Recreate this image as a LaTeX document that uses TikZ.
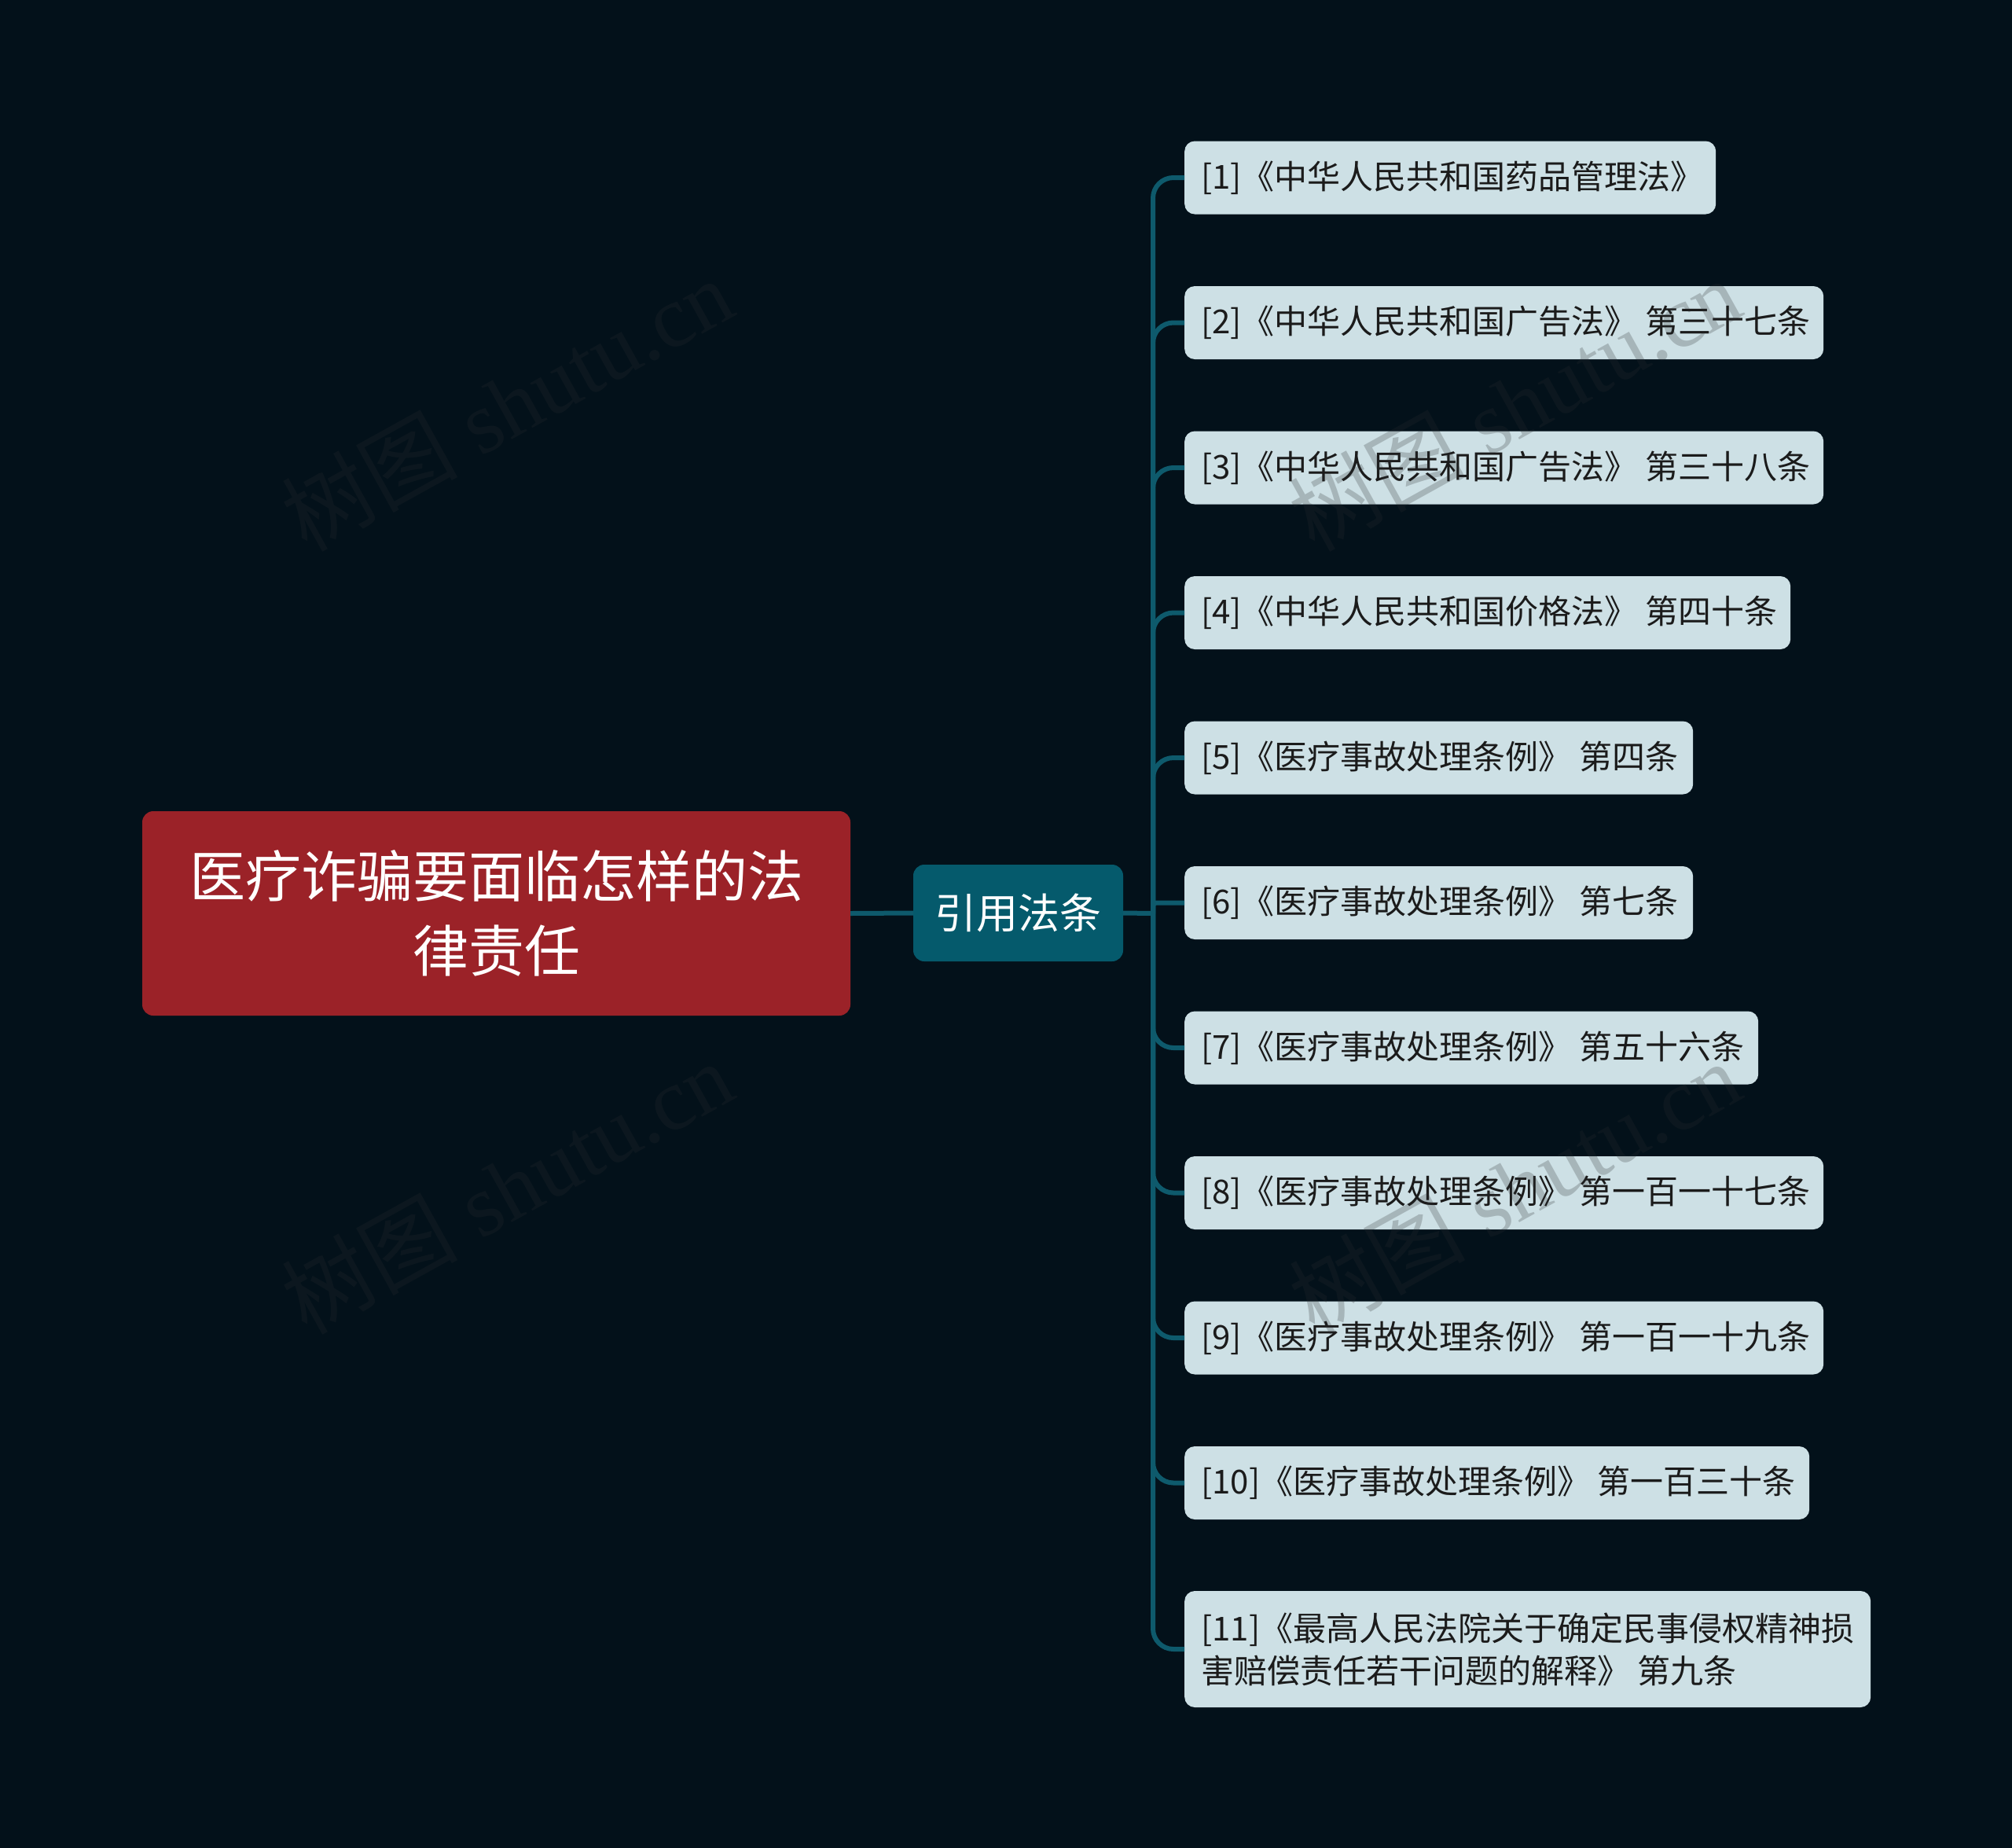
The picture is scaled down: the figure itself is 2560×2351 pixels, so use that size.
\documentclass[tikz,border=0pt]{standalone}
\usepackage{fontspec}
\newfontfamily\cjk{Noto Sans CJK SC}
\newfontfamily\wmserif{Liberation Serif}
\definecolor{bgc}{HTML}{03111A}
\definecolor{rootc}{HTML}{9B2228}
\definecolor{midc}{HTML}{055A6C}
\definecolor{leafc}{HTML}{CDE0E5}
\definecolor{linec}{HTML}{0E5A6C}
\definecolor{leaftext}{HTML}{1B1B1B}
\definecolor{wmc}{HTML}{2A2E30}
\newcommand\lfbox[2]{\makebox[#1pt][l]{\raisebox{-4pt}{#2}}}
\tikzset{
  rootbox/.style={fill=rootc, rounded corners=14pt, text=white, inner sep=0pt,
    minimum width=901pt, minimum height=260pt, align=center,
    font=\cjk\fontsize{71}{95}\selectfont},
  midbox/.style={fill=midc, rounded corners=14pt, text=white, inner sep=0pt,
    minimum width=267pt, minimum height=123pt,
    font=\cjk\fontsize{53}{64}\selectfont},
  leafbox/.style={fill=leafc, rounded corners=13pt, text=leaftext, anchor=west,
    inner xsep=21pt, inner ysep=0pt, minimum height=93pt,
    font=\cjk\fontsize{42}{54}\selectfont},
  conn/.style={draw=linec, line width=6pt},
  wmark/.style={text=wmc, text opacity=0.24, rotate=29,
    font=\wmserif\fontsize{112}{120}\selectfont}
}
\begin{document}
\begin{tikzpicture}[x=1pt,y=-1pt]
\fill[bgc] (0,0) rectangle (2560,2351);
\useasboundingbox (0,0) rectangle (2560,2351);
% nodes
\node[rootbox] (root) at (631.5,1162) {医疗诈骗要面临怎样的法\\律责任};
\node[midbox] (mid) at (1295.5,1161.5) {引用法条};
\node[leafbox] (l1) at (1507,226) {\lfbox{634}{[1]《中华人民共和国药品管理法》}};
\node[leafbox] (l2) at (1507,410.5) {\lfbox{771}{[2]《中华人民共和国广告法》 第三十七条}};
\node[leafbox] (l3) at (1507,595) {\lfbox{771}{[3]《中华人民共和国广告法》 第三十八条}};
\node[leafbox] (l4) at (1507,779.5) {\lfbox{729}{[4]《中华人民共和国价格法》 第四十条}};
\node[leafbox] (l5) at (1507,964) {\lfbox{605}{[5]《医疗事故处理条例》 第四条}};
\node[leafbox] (l6) at (1507,1148.5) {\lfbox{605}{[6]《医疗事故处理条例》 第七条}};
\node[leafbox] (l7) at (1507,1333) {\lfbox{688}{[7]《医疗事故处理条例》 第五十六条}};
\node[leafbox] (l8) at (1507,1517.5) {\lfbox{771}{[8]《医疗事故处理条例》 第一百一十七条}};
\node[leafbox] (l9) at (1507,1702) {\lfbox{771}{[9]《医疗事故处理条例》 第一百一十九条}};
\node[leafbox] (l10) at (1507,1886.5) {\lfbox{753}{[10]《医疗事故处理条例》 第一百三十条}};
\node[leafbox, minimum height=148pt] (l11) at (1507,2098)
  {\raisebox{-3pt}{\begin{minipage}{831pt}\raggedright
   [11]《最高人民法院关于确定民事侵权精神损\\害赔偿责任若干问题的解释》 第九条\end{minipage}}};
% connectors
\coordinate (sp) at (1467,1162);
\draw[conn] (root.east) -- (mid.west);
\draw[conn] (mid.east) -- (sp);
\foreach \n in {l1,l2,l3,l4,l5,l7,l8,l9,l10,l11}{
  \draw[conn, rounded corners=26pt] (sp) |- (\n.west);
}
\draw[conn, rounded corners=4pt] (sp) |- (l6.west);
% watermarks (drawn over everything, translucent)
\node[wmark] (wm1) at (645,514) {{\cjk 树图} shutu.cn};
\node[wmark] (wm2) at (1927,514) {{\cjk 树图} shutu.cn};
\node[wmark] (wm3) at (645,1510) {{\cjk 树图} shutu.cn};
\node[wmark] (wm4) at (1927,1510) {{\cjk 树图} shutu.cn};
\end{tikzpicture}
\end{document}
